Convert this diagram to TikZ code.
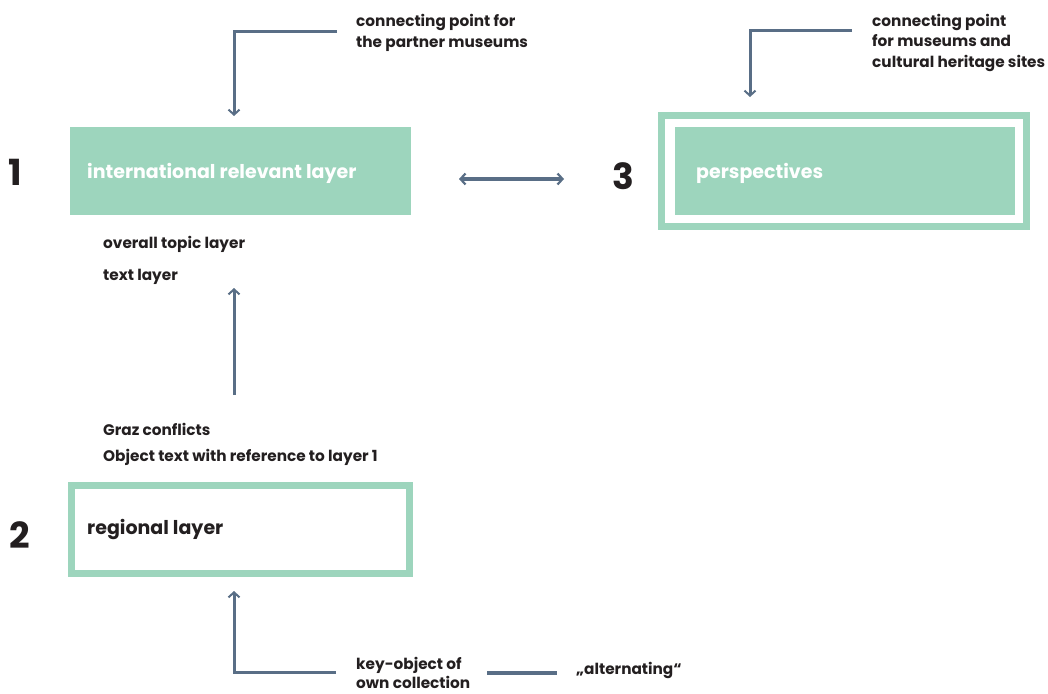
\documentclass[tikz,border=0pt]{standalone}
\usepackage{fontspec}
\setmainfont{Poppins}
\usetikzlibrary{arrows.meta}
\definecolor{mint}{HTML}{9DD5BD}
\definecolor{slate}{HTML}{596E86}
\definecolor{ink}{HTML}{231F20}
\tikzset{
  lbl/.style={anchor=base west, inner sep=0pt, text=ink, font=\fontsize{15.3}{18}\selectfont\bfseries},
  ttl/.style={anchor=base west, inner sep=0pt, font=\fontsize{19}{22}\selectfont\bfseries},
  num/.style={anchor=base west, inner sep=0pt, text=ink, font=\fontsize{36}{40}\selectfont\bfseries},
  conn/.style={draw=slate, line width=3pt, -{Straight Barb[length=5pt,width=11pt,line width=2pt]}},
  dconn/.style={draw=slate, line width=3.4pt, {Straight Barb[length=5pt,width=11pt,line width=2.2pt]}-{Straight Barb[length=5pt,width=11pt,line width=2.2pt]}},
  plain/.style={draw=slate, line width=4.5pt},
}
\begin{document}
\begin{tikzpicture}[x=1pt,y=-1pt]
\useasboundingbox (0,0) rectangle (1048,693);
% boxes
\node[fill=mint, inner sep=0pt, outer sep=0pt, minimum width=341pt, minimum height=88pt, anchor=north west] (box1) at (70,127) {};
\node[draw=mint, line width=7pt, inner sep=0pt, outer sep=0pt, minimum width=365pt, minimum height=111pt, anchor=north west] (box3o) at (661.5,115.5) {};
\node[fill=mint, inner sep=0pt, outer sep=0pt, minimum width=340pt, minimum height=88pt, anchor=north west] (box3) at (675,127) {};
\node[draw=mint, line width=7pt, inner sep=0pt, outer sep=0pt, minimum width=338pt, minimum height=88pt, anchor=north west] (box2) at (71.5,485.5) {};
% titles
\node[ttl, text=white] (t1) at (87,178) {international relevant layer};
\node[ttl, text=white] (t3) at (696,178) {perspectives};
\node[ttl, text=ink] (t2) at (87,534) {regional layer};
% numbers
\node[num] (n1) at (8,185) {1};
\node[num] (n3) at (612,189) {3};
\node[num] (n2) at (9,548) {2};
% labels
\node[lbl] (lpa) at (356,27) {connecting point for};
\node[lbl] (lpb) at (356,48) {the partner museums};
\node[lbl] (lma) at (872,27) {connecting point};
\node[lbl] (lmb) at (872,47) {for museums and};
\node[lbl] (lmc) at (872,67) {cultural heritage sites};
\node[lbl] (ot) at (103,248) {overall topic layer};
\node[lbl] (tl) at (103,280) {text layer};
\node[lbl] (gc) at (103,435) {Graz conflicts};
\node[lbl] (ob) at (103,461) {Object text with reference to layer 1};
\node[lbl] (koa) at (356,669) {key-object of};
\node[lbl] (kob) at (356,688) {own collection};
\node[lbl] (al) at (576,674) {„alternating“};
% connector coordinates
\coordinate (c1) at (337,32);
\coordinate (c1e) at (234,116);
\coordinate (c3) at (852,31);
\coordinate (c3e) at (750,97);
\coordinate (m1) at (234,395);
\coordinate (m1e) at (234,288);
\coordinate (b1) at (336,672);
\coordinate (b1e) at (234,591);
\coordinate (d1) at (459,179);
\coordinate (d2) at (564,179);
\coordinate (p1) at (487,673);
\coordinate (p2) at (557,673);
% connectors
\draw[conn] (c1) -| (c1e);
\draw[conn] (c3) -| (c3e);
\draw[conn] (m1) -- (m1e);
\draw[conn] (b1) -| (b1e);
\draw[dconn] (d1) -- (d2);
\draw[plain] (p1) -- (p2);
\end{tikzpicture}
\end{document}
